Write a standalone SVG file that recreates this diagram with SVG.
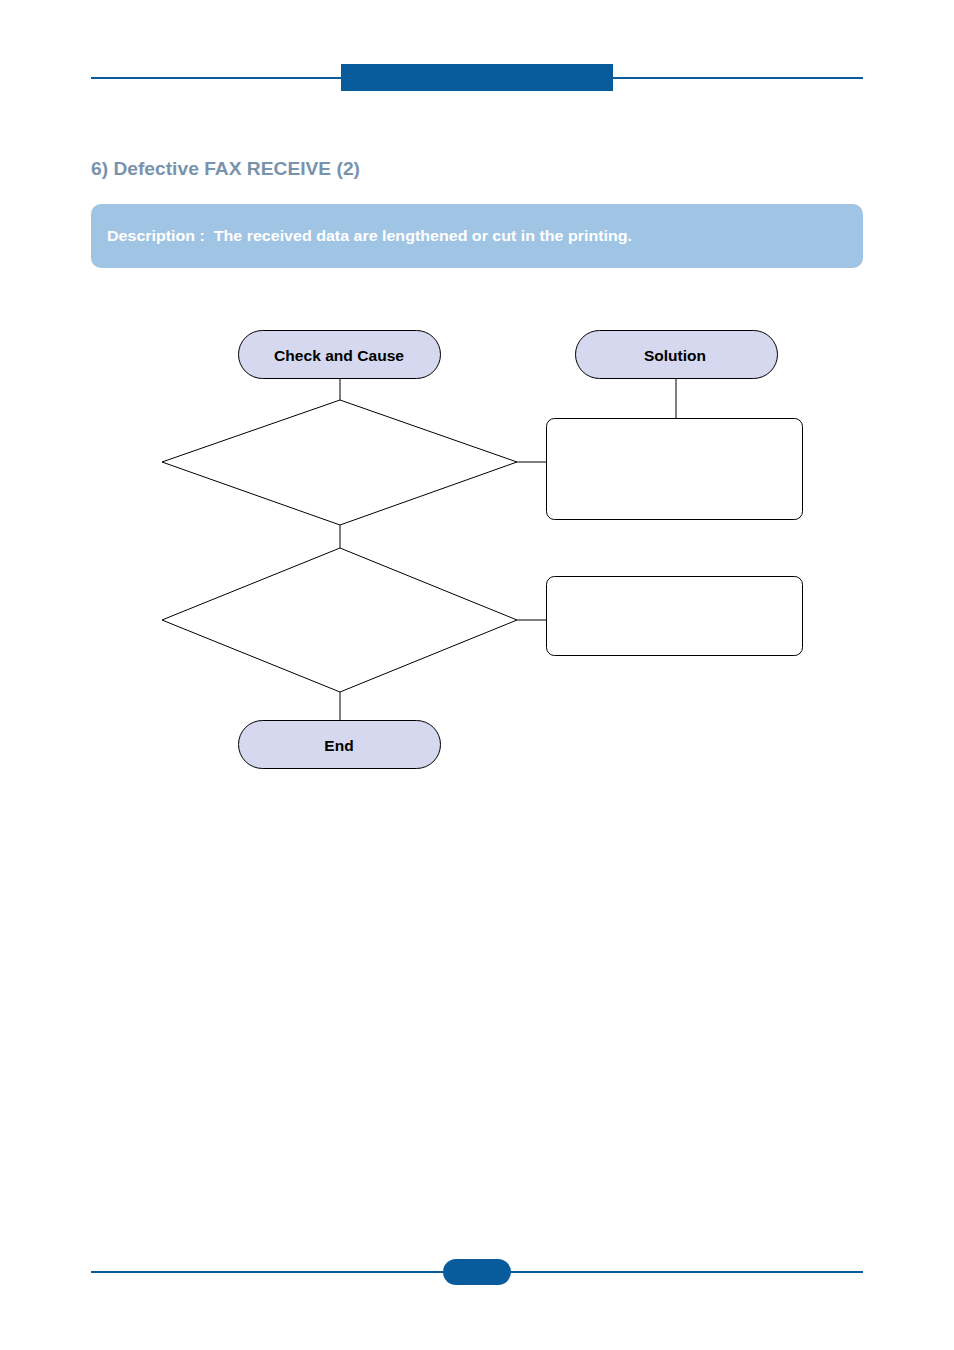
<svg xmlns="http://www.w3.org/2000/svg" width="954" height="1350" viewBox="0 0 954 1350">
<style>
.rule{stroke:#085c9c;stroke-width:2;fill:none}
.band{fill:#085c9c}
.pill{fill:#d5d8ee;stroke:#000;stroke-width:1}
.shape{fill:#fff;stroke:#000;stroke-width:1}
.lbl{font-family:"Liberation Sans",Arial,sans-serif;font-weight:bold;font-size:15.5px;fill:#000;text-anchor:middle}
.conn line{stroke:#000;stroke-width:1}
</style>
<rect width="954" height="1350" fill="#fff"/>
<g id="header">
<line class="rule" x1="91" y1="78" x2="863" y2="78"/>
<rect class="band" x="341" y="64" width="272" height="27"/>
</g>
<text x="91" y="175" font-family="'Liberation Sans',Arial,sans-serif" font-weight="bold" font-size="18.5" fill="#7a93ad" textLength="269" lengthAdjust="spacingAndGlyphs">6) Defective FAX RECEIVE (2)</text>
<g id="description">
<rect x="91" y="204" width="772" height="64" rx="10" fill="#a0c4e4"/>
<text x="107" y="241" font-family="'Liberation Sans',Arial,sans-serif" font-weight="bold" font-size="15.5" fill="#fff" xml:space="preserve" textLength="525" lengthAdjust="spacingAndGlyphs">Description :  The received data are lengthened or cut in the printing.</text>
</g>
<g id="connectors" class="conn">
<line x1="340" y1="379" x2="340" y2="400"/>
<line x1="676" y1="379" x2="676" y2="418"/>
<line x1="517" y1="462" x2="546" y2="462"/>
<line x1="340" y1="525" x2="340" y2="548"/>
<line x1="517" y1="620" x2="546" y2="620"/>
<line x1="340" y1="692" x2="340" y2="720"/>
</g>
<g id="check">
<rect class="pill" x="238.5" y="330.5" width="202" height="48" rx="24"/>
<text class="lbl" x="339" y="361" textLength="130" lengthAdjust="spacingAndGlyphs">Check and Cause</text>
</g>
<g id="solution">
<rect class="pill" x="575.5" y="330.5" width="202" height="48" rx="24"/>
<text class="lbl" x="675" y="361">Solution</text>
</g>
<g id="decision1">
<polygon class="shape" points="340,400 517,462 340,525 162,462"/>
</g>
<g id="solution1">
<rect class="shape" x="546.5" y="418.5" width="256" height="101" rx="8"/>
</g>
<g id="decision2">
<polygon class="shape" points="340,548 517,620 340,692 162,620"/>
</g>
<g id="solution2">
<rect class="shape" x="546.5" y="576.5" width="256" height="79" rx="8"/>
</g>
<g id="end">
<rect class="pill" x="238.5" y="720.5" width="202" height="48" rx="24"/>
<text class="lbl" x="339" y="751">End</text>
</g>
<g id="footer">
<line class="rule" x1="91" y1="1272" x2="863" y2="1272"/>
<rect class="band" x="443" y="1259" width="68" height="26" rx="13"/>
</g>
</svg>
